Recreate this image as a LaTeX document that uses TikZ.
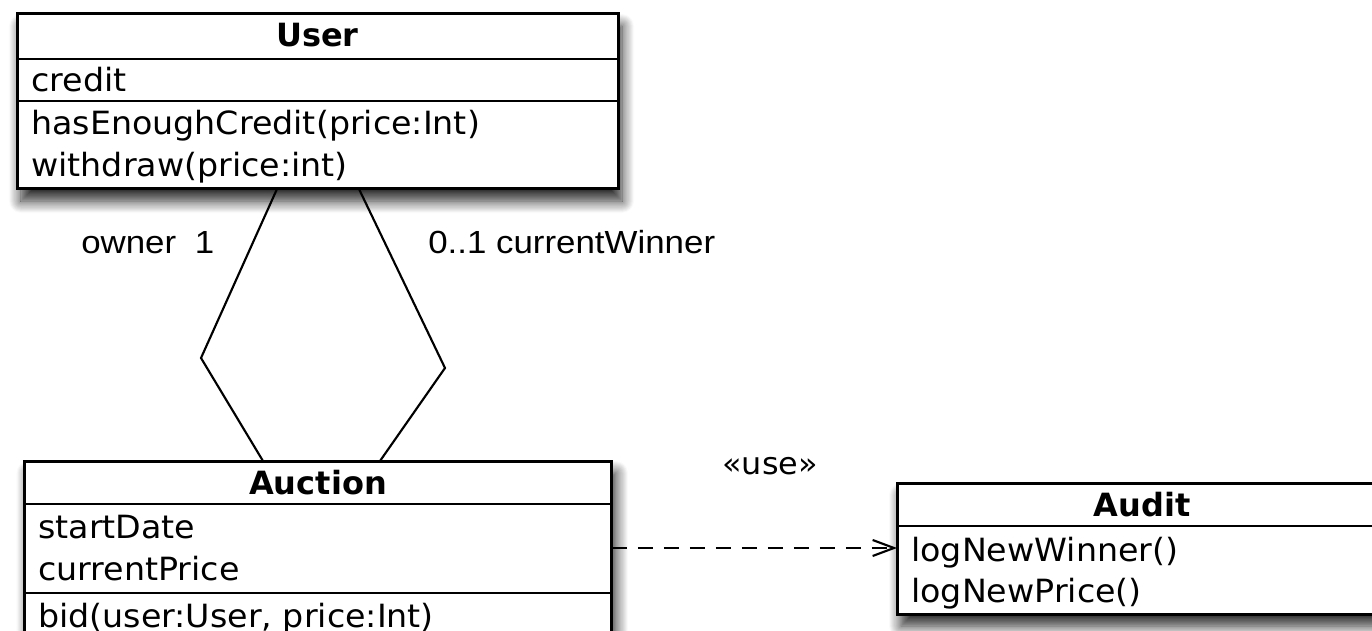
\documentclass[tikz,border=0pt]{standalone}
\usepackage{fontspec}
\usetikzlibrary{arrows.meta,shadows.blur}
\newfontfamily\classfont[FakeStretch=1.04]{DejaVu Sans}
\newfontfamily\titlefont{DejaVu Sans Bold}
\newfontfamily\rolefont[FakeStretch=1.09]{Liberation Sans}
\begin{document}
\begin{tikzpicture}[x=0.75pt,y=-0.75pt,
  classbox/.style={draw, line width=2.25pt, fill=white, inner sep=0pt, outer sep=0pt,
    anchor=north west,
    blur shadow={shadow xshift=3pt, shadow yshift=-9pt, shadow blur radius=9pt,
      shadow blur steps=12, shadow opacity=85}},
  sepline/.style={line width=2pt},
  member/.style={anchor=base west, inner sep=0pt, font=\classfont\fontsize{24}{28}\selectfont},
  classtitle/.style={anchor=base, inner sep=0pt, font=\titlefont\fontsize{24}{28}\selectfont},
  stereotype/.style={anchor=base, inner sep=0pt, font=\classfont\fontsize{23}{27}\selectfont},
  role/.style={anchor=base west, inner sep=0pt, font=\rolefont\fontsize{24}{28}\selectfont},
  assoc/.style={line width=1.6pt, line join=miter},
  dependency/.style={line width=1.6pt, dash pattern=on 11pt off 8.5pt,
    -{Straight Barb[length=16pt,width=12pt,line width=1.6pt]}}]
\useasboundingbox (0,0) rectangle (1372,631);

% class boxes
\node[classbox, minimum width=450.75pt, minimum height=131.25pt] (user) at (17,14) {};
\node[classbox, minimum width=440.6pt, minimum height=132pt] (auction) at (24.5,461) {};
\node[classbox, minimum width=367.5pt, minimum height=98.25pt] (audit) at (897,483) {};

% compartments
\draw[sepline] (user.west |- 0,59) -- (user.east |- 0,59);
\draw[sepline] (user.west |- 0,101) -- (user.east |- 0,101);
\draw[sepline] (auction.west |- 0,504) -- (auction.east |- 0,504);
\draw[sepline] (auction.west |- 0,593) -- (auction.east |- 0,593);
\draw[sepline] (audit.west |- 0,526) -- (audit.east |- 0,526);

% User
\node[classtitle] (usertitle) at (317.5,47) {User};
\node[member] (credit) at (31,92) {credit};
\node[member] (hasenough) at (31,135) {hasEnoughCredit(price:Int)};
\node[member] (withdraw) at (31,177) {withdraw(price:int)};

% Auction
\node[classtitle] (auctiontitle) at (318,494) {Auction};
\node[member] (startdate) at (38,538) {startDate};
\node[member] (currentprice) at (38,580) {currentPrice};
\node[member] (bid) at (38,627) {bid(user:User, price:Int)};

% Audit
\node[classtitle] (audittitle) at (1142,516) {Audit};
\node[member] (lognewwinner) at (911,561) {logNewWinner()};
\node[member] (lognewprice) at (911,602) {logNewPrice()};

% associations User -- Auction
\coordinate (ownerTop) at (277,0);
\coordinate (ownerBend) at (201,358);
\coordinate (ownerBot) at (263,0);
\coordinate (winnerTop) at (359,0);
\coordinate (winnerBend) at (445,368);
\coordinate (winnerBot) at (380,0);
\draw[assoc] (user.south -| ownerTop) -- (ownerBend) -- (auction.north -| ownerBot);
\draw[assoc] (user.south -| winnerTop) -- (winnerBend) -- (auction.north -| winnerBot);
\node[role] (ownerlabel) at (81,253) {owner\hspace{14pt}1};
\node[role] (winnerlabel) at (428,253) {0..1 currentWinner};

% dependency Auction --> Audit
\coordinate (depline) at (0,548);
\draw[dependency] (auction.east |- depline) -- (audit.west |- depline);
\node[stereotype] (uselabel) at (770,474) {«use»};
\end{tikzpicture}
\end{document}
